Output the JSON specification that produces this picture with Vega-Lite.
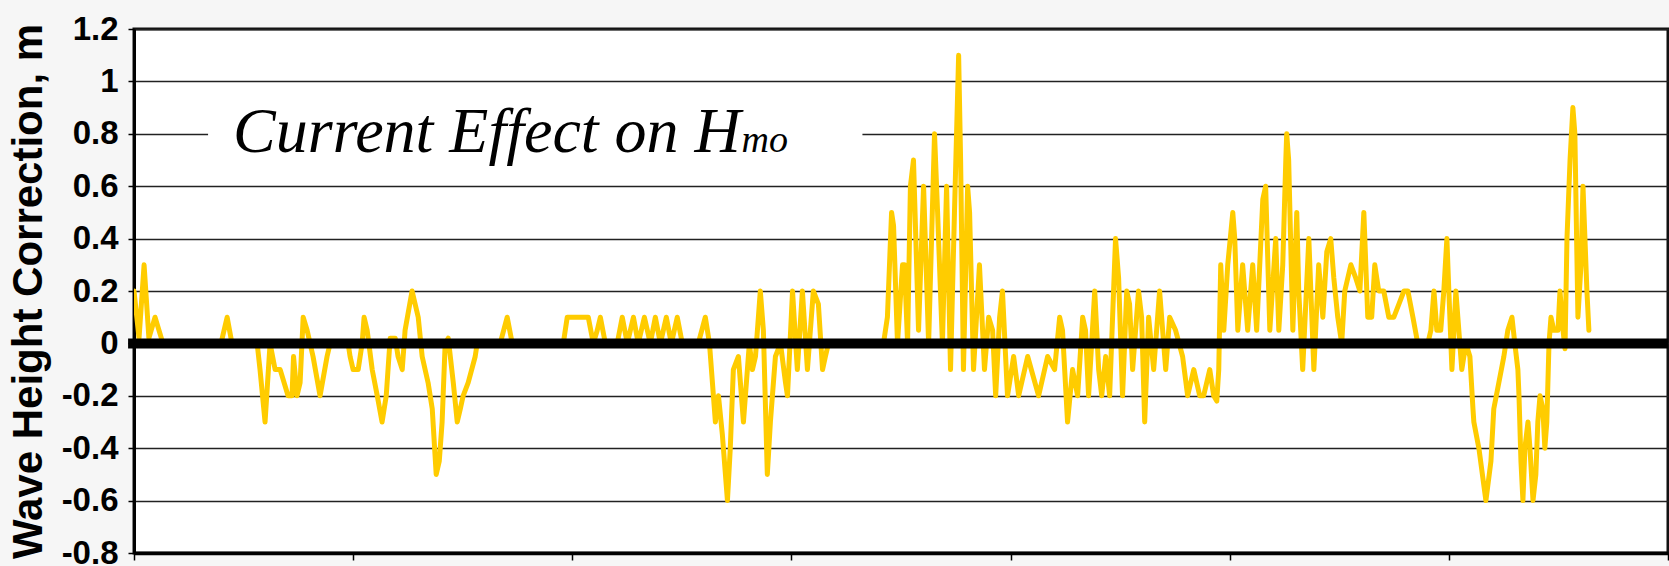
{
  "$schema": "https://vega.github.io/schema/vega-lite/v6.json",
  "width": 1534,
  "height": 524,
  "autosize": {"type": "none"},
  "padding": {"left": 134, "top": 29, "right": 1, "bottom": 13},
  "background": "#f6f6f6",
  "config": {
    "view": {"fill": "#ffffff", "stroke": "#111111", "strokeWidth": 3},
    "axis": {"labelFont": "Liberation Sans", "titleFont": "Liberation Sans"}
  },
  "datasets": {
    "series": [
      {"t":0,"v":0.2},{"t":0.023,"v":0.02},{"t":0.046,"v":0.3},{"t":0.068,"v":0.02},{"t":0.096,"v":0.1},{"t":0.132,"v":0},{"t":0.397,"v":0},{"t":0.425,"v":0.1},{"t":0.447,"v":0},{"t":0.562,"v":0},{"t":0.575,"v":-0.1},{"t":0.598,"v":-0.3},{"t":0.621,"v":0},{"t":0.644,"v":-0.1},{"t":0.667,"v":-0.1},{"t":0.703,"v":-0.2},{"t":0.721,"v":-0.2},{"t":0.728,"v":-0.05},{"t":0.744,"v":-0.2},{"t":0.758,"v":-0.15},{"t":0.772,"v":0.1},{"t":0.790,"v":0.05},{"t":0.817,"v":-0.05},{"t":0.849,"v":-0.2},{"t":0.881,"v":-0.05},{"t":0.895,"v":0},{"t":0.977,"v":0},{"t":0.986,"v":-0.05},{"t":1.000,"v":-0.1},{"t":1.023,"v":-0.1},{"t":1.041,"v":0},{"t":1.050,"v":0.1},{"t":1.064,"v":0.05},{"t":1.087,"v":-0.1},{"t":1.110,"v":-0.2},{"t":1.132,"v":-0.3},{"t":1.151,"v":-0.2},{"t":1.169,"v":0.02},{"t":1.192,"v":0.02},{"t":1.205,"v":-0.05},{"t":1.224,"v":-0.1},{"t":1.237,"v":0.05},{"t":1.269,"v":0.2},{"t":1.297,"v":0.1},{"t":1.315,"v":-0.05},{"t":1.342,"v":-0.15},{"t":1.361,"v":-0.25},{"t":1.379,"v":-0.5},{"t":1.393,"v":-0.45},{"t":1.406,"v":-0.3},{"t":1.420,"v":0},{"t":1.434,"v":0.02},{"t":1.457,"v":-0.15},{"t":1.475,"v":-0.3},{"t":1.489,"v":-0.25},{"t":1.502,"v":-0.2},{"t":1.525,"v":-0.15},{"t":1.557,"v":-0.05},{"t":1.566,"v":0},{"t":1.671,"v":0},{"t":1.703,"v":0.1},{"t":1.726,"v":0},{"t":1.959,"v":0},{"t":1.977,"v":0.1},{"t":2.073,"v":0.1},{"t":2.096,"v":0},{"t":2.114,"v":0.05},{"t":2.128,"v":0.1},{"t":2.151,"v":0},{"t":2.205,"v":0},{"t":2.228,"v":0.1},{"t":2.251,"v":0},{"t":2.279,"v":0.1},{"t":2.301,"v":0},{"t":2.329,"v":0.1},{"t":2.356,"v":0},{"t":2.379,"v":0.1},{"t":2.402,"v":0},{"t":2.429,"v":0.1},{"t":2.452,"v":0},{"t":2.479,"v":0.1},{"t":2.502,"v":0},{"t":2.575,"v":0},{"t":2.607,"v":0.1},{"t":2.626,"v":0},{"t":2.644,"v":-0.2},{"t":2.653,"v":-0.3},{"t":2.667,"v":-0.2},{"t":2.685,"v":-0.35},{"t":2.708,"v":-0.6},{"t":2.721,"v":-0.4},{"t":2.735,"v":-0.1},{"t":2.758,"v":-0.05},{"t":2.781,"v":-0.3},{"t":2.799,"v":-0.1},{"t":2.808,"v":0},{"t":2.822,"v":-0.1},{"t":2.836,"v":-0.05},{"t":2.858,"v":0.2},{"t":2.872,"v":0.05},{"t":2.890,"v":-0.5},{"t":2.904,"v":-0.3},{"t":2.927,"v":-0.05},{"t":2.950,"v":0},{"t":2.973,"v":-0.15},{"t":2.982,"v":-0.2},{"t":3.005,"v":0.2},{"t":3.027,"v":-0.1},{"t":3.050,"v":0.2},{"t":3.073,"v":-0.1},{"t":3.100,"v":0.2},{"t":3.123,"v":0.15},{"t":3.142,"v":-0.1},{"t":3.155,"v":-0.05},{"t":3.169,"v":0},{"t":3.420,"v":0},{"t":3.429,"v":0.05},{"t":3.438,"v":0.1},{"t":3.457,"v":0.5},{"t":3.466,"v":0.45},{"t":3.484,"v":0},{"t":3.507,"v":0.3},{"t":3.516,"v":0.3},{"t":3.530,"v":0},{"t":3.543,"v":0.6},{"t":3.557,"v":0.7},{"t":3.580,"v":0.05},{"t":3.603,"v":0.6},{"t":3.626,"v":0},{"t":3.653,"v":0.8},{"t":3.667,"v":0.5},{"t":3.680,"v":0.2},{"t":3.689,"v":0},{"t":3.708,"v":0.6},{"t":3.726,"v":-0.1},{"t":3.744,"v":0.5},{"t":3.763,"v":1.1},{"t":3.772,"v":0.7},{"t":3.785,"v":-0.1},{"t":3.804,"v":0.6},{"t":3.813,"v":0.5},{"t":3.831,"v":-0.1},{"t":3.858,"v":0.3},{"t":3.881,"v":-0.1},{"t":3.900,"v":0.1},{"t":3.918,"v":0.05},{"t":3.932,"v":-0.2},{"t":3.950,"v":0.1},{"t":3.963,"v":0.2},{"t":3.986,"v":-0.2},{"t":4.014,"v":-0.05},{"t":4.037,"v":-0.2},{"t":4.078,"v":-0.05},{"t":4.128,"v":-0.2},{"t":4.169,"v":-0.05},{"t":4.201,"v":-0.1},{"t":4.224,"v":0.1},{"t":4.237,"v":0.05},{"t":4.260,"v":-0.3},{"t":4.283,"v":-0.1},{"t":4.306,"v":-0.2},{"t":4.329,"v":0.1},{"t":4.342,"v":0.05},{"t":4.356,"v":-0.2},{"t":4.384,"v":0.2},{"t":4.402,"v":-0.1},{"t":4.416,"v":-0.2},{"t":4.434,"v":-0.05},{"t":4.452,"v":-0.2},{"t":4.479,"v":0.4},{"t":4.493,"v":0.25},{"t":4.511,"v":-0.2},{"t":4.530,"v":0.2},{"t":4.543,"v":0.15},{"t":4.557,"v":-0.1},{"t":4.584,"v":0.2},{"t":4.598,"v":0.1},{"t":4.612,"v":-0.3},{"t":4.630,"v":0.1},{"t":4.653,"v":-0.1},{"t":4.680,"v":0.2},{"t":4.708,"v":-0.1},{"t":4.726,"v":0.1},{"t":4.753,"v":0.05},{"t":4.785,"v":-0.05},{"t":4.808,"v":-0.2},{"t":4.836,"v":-0.1},{"t":4.863,"v":-0.2},{"t":4.881,"v":-0.2},{"t":4.909,"v":-0.1},{"t":4.927,"v":-0.2},{"t":4.941,"v":-0.22},{"t":4.950,"v":-0.1},{"t":4.959,"v":0.3},{"t":4.973,"v":0.05},{"t":4.991,"v":0.3},{"t":5.014,"v":0.5},{"t":5.023,"v":0.4},{"t":5.037,"v":0.05},{"t":5.059,"v":0.3},{"t":5.082,"v":0.05},{"t":5.105,"v":0.3},{"t":5.123,"v":0.05},{"t":5.151,"v":0.55},{"t":5.164,"v":0.6},{"t":5.183,"v":0.05},{"t":5.210,"v":0.4},{"t":5.224,"v":0.05},{"t":5.242,"v":0.3},{"t":5.256,"v":0.7},{"t":5.260,"v":0.8},{"t":5.269,"v":0.7},{"t":5.288,"v":0.05},{"t":5.306,"v":0.5},{"t":5.315,"v":0.2},{"t":5.333,"v":-0.1},{"t":5.361,"v":0.4},{"t":5.384,"v":-0.1},{"t":5.406,"v":0.3},{"t":5.425,"v":0.1},{"t":5.443,"v":0.35},{"t":5.461,"v":0.4},{"t":5.475,"v":0.25},{"t":5.493,"v":0.1},{"t":5.511,"v":0},{"t":5.525,"v":0.2},{"t":5.553,"v":0.3},{"t":5.575,"v":0.25},{"t":5.594,"v":0.2},{"t":5.612,"v":0.5},{"t":5.621,"v":0.3},{"t":5.630,"v":0.1},{"t":5.648,"v":0.1},{"t":5.662,"v":0.3},{"t":5.680,"v":0.2},{"t":5.703,"v":0.2},{"t":5.726,"v":0.1},{"t":5.749,"v":0.1},{"t":5.772,"v":0.15},{"t":5.795,"v":0.2},{"t":5.813,"v":0.2},{"t":5.836,"v":0.1},{"t":5.858,"v":0},{"t":5.904,"v":0},{"t":5.918,"v":0.05},{"t":5.932,"v":0.2},{"t":5.945,"v":0.05},{"t":5.963,"v":0.05},{"t":5.977,"v":0.2},{"t":5.991,"v":0.4},{"t":6.000,"v":0.2},{"t":6.014,"v":-0.1},{"t":6.032,"v":0.2},{"t":6.041,"v":0.1},{"t":6.059,"v":-0.1},{"t":6.078,"v":0},{"t":6.096,"v":-0.05},{"t":6.110,"v":-0.25},{"t":6.114,"v":-0.3},{"t":6.137,"v":-0.4},{"t":6.169,"v":-0.6},{"t":6.192,"v":-0.45},{"t":6.205,"v":-0.25},{"t":6.228,"v":-0.15},{"t":6.251,"v":-0.05},{"t":6.269,"v":0.05},{"t":6.288,"v":0.1},{"t":6.301,"v":0},{"t":6.315,"v":-0.1},{"t":6.320,"v":-0.2},{"t":6.329,"v":-0.45},{"t":6.338,"v":-0.6},{"t":6.347,"v":-0.4},{"t":6.361,"v":-0.3},{"t":6.370,"v":-0.4},{"t":6.384,"v":-0.6},{"t":6.397,"v":-0.5},{"t":6.406,"v":-0.3},{"t":6.416,"v":-0.2},{"t":6.429,"v":-0.25},{"t":6.438,"v":-0.4},{"t":6.447,"v":-0.3},{"t":6.457,"v":0},{"t":6.466,"v":0.1},{"t":6.479,"v":0.05},{"t":6.498,"v":0.05},{"t":6.507,"v":0.2},{"t":6.521,"v":0.05},{"t":6.530,"v":-0.02},{"t":6.539,"v":0.4},{"t":6.553,"v":0.7},{"t":6.566,"v":0.9},{"t":6.575,"v":0.8},{"t":6.589,"v":0.1},{"t":6.603,"v":0.3},{"t":6.612,"v":0.6},{"t":6.621,"v":0.4},{"t":6.630,"v":0.2},{"t":6.639,"v":0.05}
    ]
  },
  "encoding": {
    "x": {
      "field": "t", "type": "quantitative",
      "scale": {"domain": [0, 7], "nice": false, "zero": false},
      "axis": {
        "title": null, "labels": false, "grid": false,
        "values": [0, 1, 2, 3, 4, 5, 6, 7],
        "domainColor": "#000000", "domainWidth": 3.5,
        "tickColor": "#000000", "tickWidth": 1.5, "tickSize": 7
      }
    },
    "y": {
      "field": "v", "type": "quantitative",
      "scale": {"domain": [-0.8, 1.2], "nice": false, "zero": false},
      "axis": {
        "title": "Wave Height Correction, m",
        "titleFontSize": 42, "titleFontWeight": "bold", "titleColor": "#000000", "titlePadding": 11,
        "values": [-0.8, -0.6, -0.4, -0.2, 0, 0.2, 0.4, 0.6, 0.8, 1, 1.2],
        "labelExpr": "toString(datum.value)",
        "labelFontSize": 33, "labelFontWeight": "bold", "labelColor": "#000000", "labelPadding": 10,
        "grid": true, "gridColor": "#222222", "gridWidth": 1.5,
        "domainColor": "#000000", "domainWidth": 3,
        "tickColor": "#000000", "tickWidth": 1.5, "tickSize": 6
      }
    }
  },
  "layer": [
    {
      "data": {"values": [{"t": 0.338, "t2": 3.324, "v": 0.66, "v2": 0.94}]},
      "mark": {"type": "rect", "fill": "#ffffff", "stroke": null},
      "encoding": {"x2": {"field": "t2"}, "y2": {"field": "v2"}}
    },
    {
      "data": {"name": "series"},
      "mark": {"type": "line", "color": "#ffcc00", "strokeWidth": 5, "strokeJoin": "round", "strokeCap": "round", "clip": true}
    },
    {
      "data": {"values": [{"t": -0.027, "t2": 7, "v": 0}]},
      "mark": {"type": "rule", "color": "#000000", "strokeWidth": 10},
      "encoding": {"x2": {"field": "t2"}}
    },
    {
      "data": {"values": [{"t": 0.452, "v": 0.729, "label": "Current Effect on H"}]},
      "mark": {"type": "text", "font": "Liberation Serif", "fontStyle": "italic", "fontSize": 64, "align": "left", "baseline": "alphabetic", "color": "#000000"},
      "encoding": {"text": {"field": "label"}}
    },
    {
      "data": {"values": [{"t": 2.772, "v": 0.729, "label": "mo"}]},
      "mark": {"type": "text", "font": "Liberation Serif", "fontStyle": "italic", "fontSize": 38, "align": "left", "baseline": "alphabetic", "color": "#000000"},
      "encoding": {"text": {"field": "label"}}
    }
  ]
}
